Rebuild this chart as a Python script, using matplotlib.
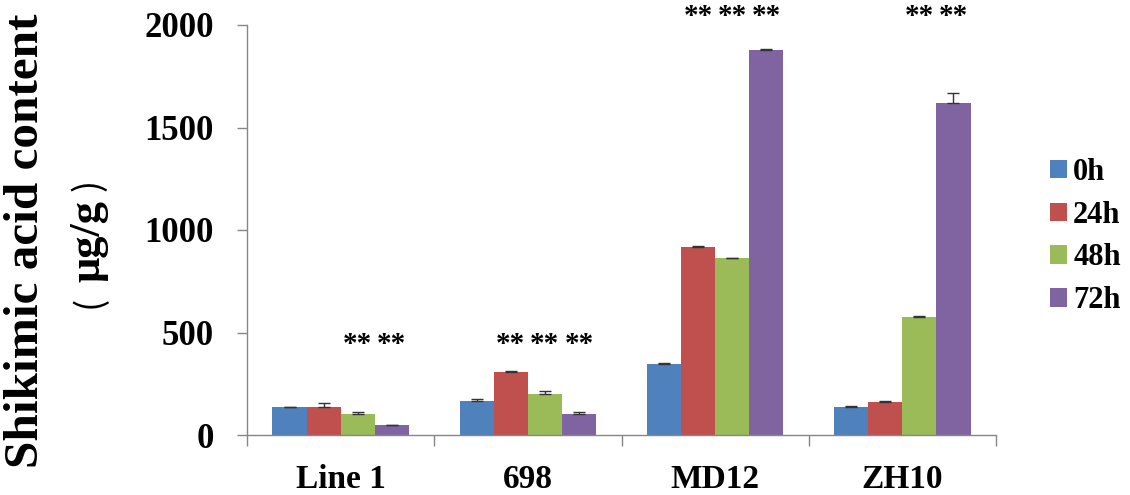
import numpy as np
import matplotlib
matplotlib.use('Agg')
import matplotlib.pyplot as plt

# Data
lines = ['Line 1', '698', 'MD12', 'ZH10']
times = ['0h', '24h', '48h', '72h']
vals_0h = [135, 167, 346, 137]
vals_24h = [135, 307, 916, 161]
vals_48h = [104, 200, 862, 576]
vals_72h = [47, 104, 1878, 1621]
err_0h = [3, 7, 3, 3]
err_24h = [20, 3, 4, 4]
err_48h = [7, 15, 3, 3]
err_72h = [3, 8, 5, 49]
# which bars carry a "**" mark (index of series per line)
stars = {0: [2, 3], 1: [1, 2, 3], 2: [1, 2, 3], 3: [2, 3]}
star_level = [440, 440, 2040, 2040]

colors = ['#4F81BD', '#C0504D', '#9BBB59', '#8064A2']
series = [vals_0h, vals_24h, vals_48h, vals_72h]
errors = [err_0h, err_24h, err_48h, err_72h]

plt.rcParams['font.family'] = ['Liberation Serif', 'Noto Sans CJK SC']
plt.rcParams['font.weight'] = 'bold'

fig = plt.figure(figsize=(11.3, 4.95), dpi=100)
ax = fig.add_axes([247/1130, 1-435/495, 749/1130, 410/495])

x = np.arange(len(lines))
w = 0.182
for k in range(4):
    pos = x + (k - 1.5) * w
    ax.bar(pos, series[k], w, color=colors[k], label=times[k], zorder=2)
    ax.errorbar(pos, series[k], yerr=[np.zeros(4), errors[k]], fmt='none',
                ecolor='#333333', elinewidth=1, capsize=4, capthick=1, zorder=3)

# significance marks
for i, idx in stars.items():
    for k in idx:
        ax.text(x[i] + (k - 1.5) * w, star_level[i], '**', ha='center', va='center',
                fontsize=21, fontweight='bold', clip_on=False)

ax.set_xlim(-0.5, 3.5)
ax.set_ylim(0, 2000)
ax.set_yticks([0, 500, 1000, 1500, 2000])
ax.set_xticks(x)
ax.set_xticklabels(lines)
ax.set_xticks(np.arange(-0.5, 4, 1), minor=True)
ax.tick_params(axis='x', which='major', length=0, pad=21, labelsize=24)
ax.tick_params(axis='x', which='minor', length=8, color='#868686', width=1)
ax.tick_params(axis='y', length=7, color='#868686', width=1, pad=17, labelsize=25)
for lab in ax.get_xticklabels() + ax.get_yticklabels():
    lab.set_fontweight('bold')

for s in ['top', 'right']:
    ax.spines[s].set_visible(False)
for s in ['left', 'bottom']:
    ax.spines[s].set_color('#868686')
    ax.spines[s].set_linewidth(1)

# y axis title, two lines
fig.text(26/1130, 1-241/495, 'Shikimic acid content', rotation=90, ha='center',
         va='center', fontsize=35.5, fontweight='bold')
fig.text(88/1130, 1-241/495, 'μg/g', rotation=90, ha='center',
         va='center', fontsize=32, fontweight='bold')
fig.text(89/1130, 1-302/495, '(', rotation=90, ha='center', va='center',
         fontsize=26, family='Noto Sans CJK SC', fontweight='normal')
fig.text(89/1130, 1-185/495, ')', rotation=90, ha='center', va='center',
         fontsize=26, family='Noto Sans CJK SC', fontweight='normal')

leg = ax.legend(loc='center left', bbox_to_anchor=(1.072, 0.484), frameon=False,
                prop={'size': 22, 'weight': 'bold'}, handlelength=0.56,
                handleheight=0.56, handletextpad=0.2, labelspacing=0.45,
                borderpad=0, borderaxespad=0)

fig.savefig('out.png', dpi=100)
